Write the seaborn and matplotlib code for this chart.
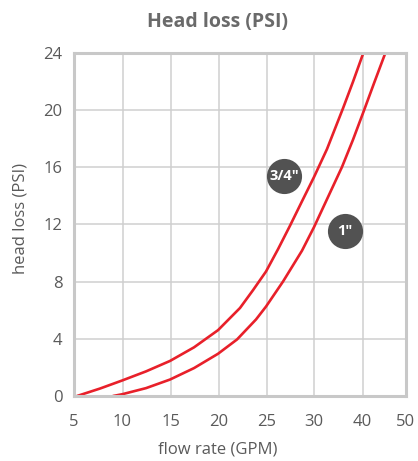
import numpy as np
import pandas as pd
import matplotlib
matplotlib.use('Agg')
import matplotlib.pyplot as plt
import seaborn as sns

# Data (flow rate in GPM, head loss in PSI)
flow_34 = [5.36, 7.70, 9.95, 12.45, 14.95, 17.45, 19.95, 22.24, 23.60, 24.95,
           26.20, 27.46, 28.71, 29.97, 32.62, 35.93, 37.99, 40.07]
loss_34 = [0.0, 0.52, 1.08, 1.72, 2.45, 3.4, 4.6, 6.15, 7.4, 8.7,
           10.25, 11.9, 13.6, 15.3, 17.25, 20.1, 21.95, 23.9]

flow_1 = [9.03, 9.95, 12.45, 14.95, 17.45, 19.95, 21.93, 23.91, 24.95,
          26.73, 28.71, 29.97, 32.83, 35.72, 37.99, 40.30, 42.64, 45.21]
loss_1 = [0.0, 0.12, 0.55, 1.15, 1.95, 2.95, 3.95, 5.35, 6.25,
          8.0, 10.15, 11.8, 13.9, 16.0, 17.9, 19.95, 21.85, 23.9]

x_ticks = [5, 10, 15, 20, 25, 30, 40, 50]
y_ticks = [0, 4, 8, 12, 16, 20, 24]

# label bubbles
labels = ['3/4"', '1"']
label_x = [26.83, 36.34]
label_y = [15.34, 11.53]

df = pd.concat([
    pd.DataFrame({'flow': flow_34, 'loss': loss_34, 'size': '3/4"'}),
    pd.DataFrame({'flow': flow_1, 'loss': loss_1, 'size': '1"'}),
])

sns.set_theme(style='whitegrid')
plt.rcParams['font.family'] = ['Open Sans', 'DejaVu Sans']

fig = plt.figure(figsize=(4.18, 4.61), dpi=100)
ax = fig.add_axes([73.5 / 418, 1 - 396 / 461, 332 / 418, 343.5 / 461])

red = '#e8202a'
sns.lineplot(data=df, x='flow', y='loss', units='size', estimator=None, sort=False,
             color=red, linewidth=1.9, ax=ax, legend=False)

# the x axis places its ticks at (nearly) even steps, not linear in GPM
tick_pos = [0, 49, 97, 145, 193, 240.8, 289.2, 332]
ax.set_xscale('function', functions=(lambda v: np.interp(v, x_ticks, tick_pos),
                                     lambda v: np.interp(v, tick_pos, x_ticks)))
ax.set_xlim(5, 50)
ax.set_ylim(0, 24)
ax.set_xticks(x_ticks)
ax.set_xticklabels([str(t) for t in x_ticks])
ax.set_yticks(y_ticks)
ax.minorticks_off()

ax.grid(True, color='#cfcfcf', linewidth=1.1)
for s in ax.spines.values():
    s.set_visible(True)
    s.set_color('#c8c8c8')
    s.set_linewidth(2.2)
ax.tick_params(length=0, labelsize=12, colors='#5a5a5a')
ax.tick_params(axis='x', pad=13)
ax.tick_params(axis='y', pad=8)

ax.scatter(label_x, label_y, s=640, color='#525252', linewidth=0, zorder=5, clip_on=False)
for t, x, y in zip(labels, label_x, label_y):
    ax.text(x, y, t, color='white', fontsize=10.5, fontweight='bold',
            ha='center', va='center', zorder=6)

fig.text(218 / 418, 1 - 22 / 461, 'Head loss (PSI)', fontsize=14, fontweight='bold',
         color='#6a6a6a', ha='center', va='center')
ax.set_xlabel('flow rate (GPM)', fontsize=12, color='#5a5a5a')
ax.set_ylabel('head loss (PSI)', fontsize=12, color='#5a5a5a')
ax.xaxis.set_label_coords(0.435, -0.157)
ax.yaxis.set_label_coords(-0.161, 0.518)
ax.xaxis.label.set_va('center')
ax.yaxis.label.set_va('center')

fig.savefig('out.png', dpi=100)
